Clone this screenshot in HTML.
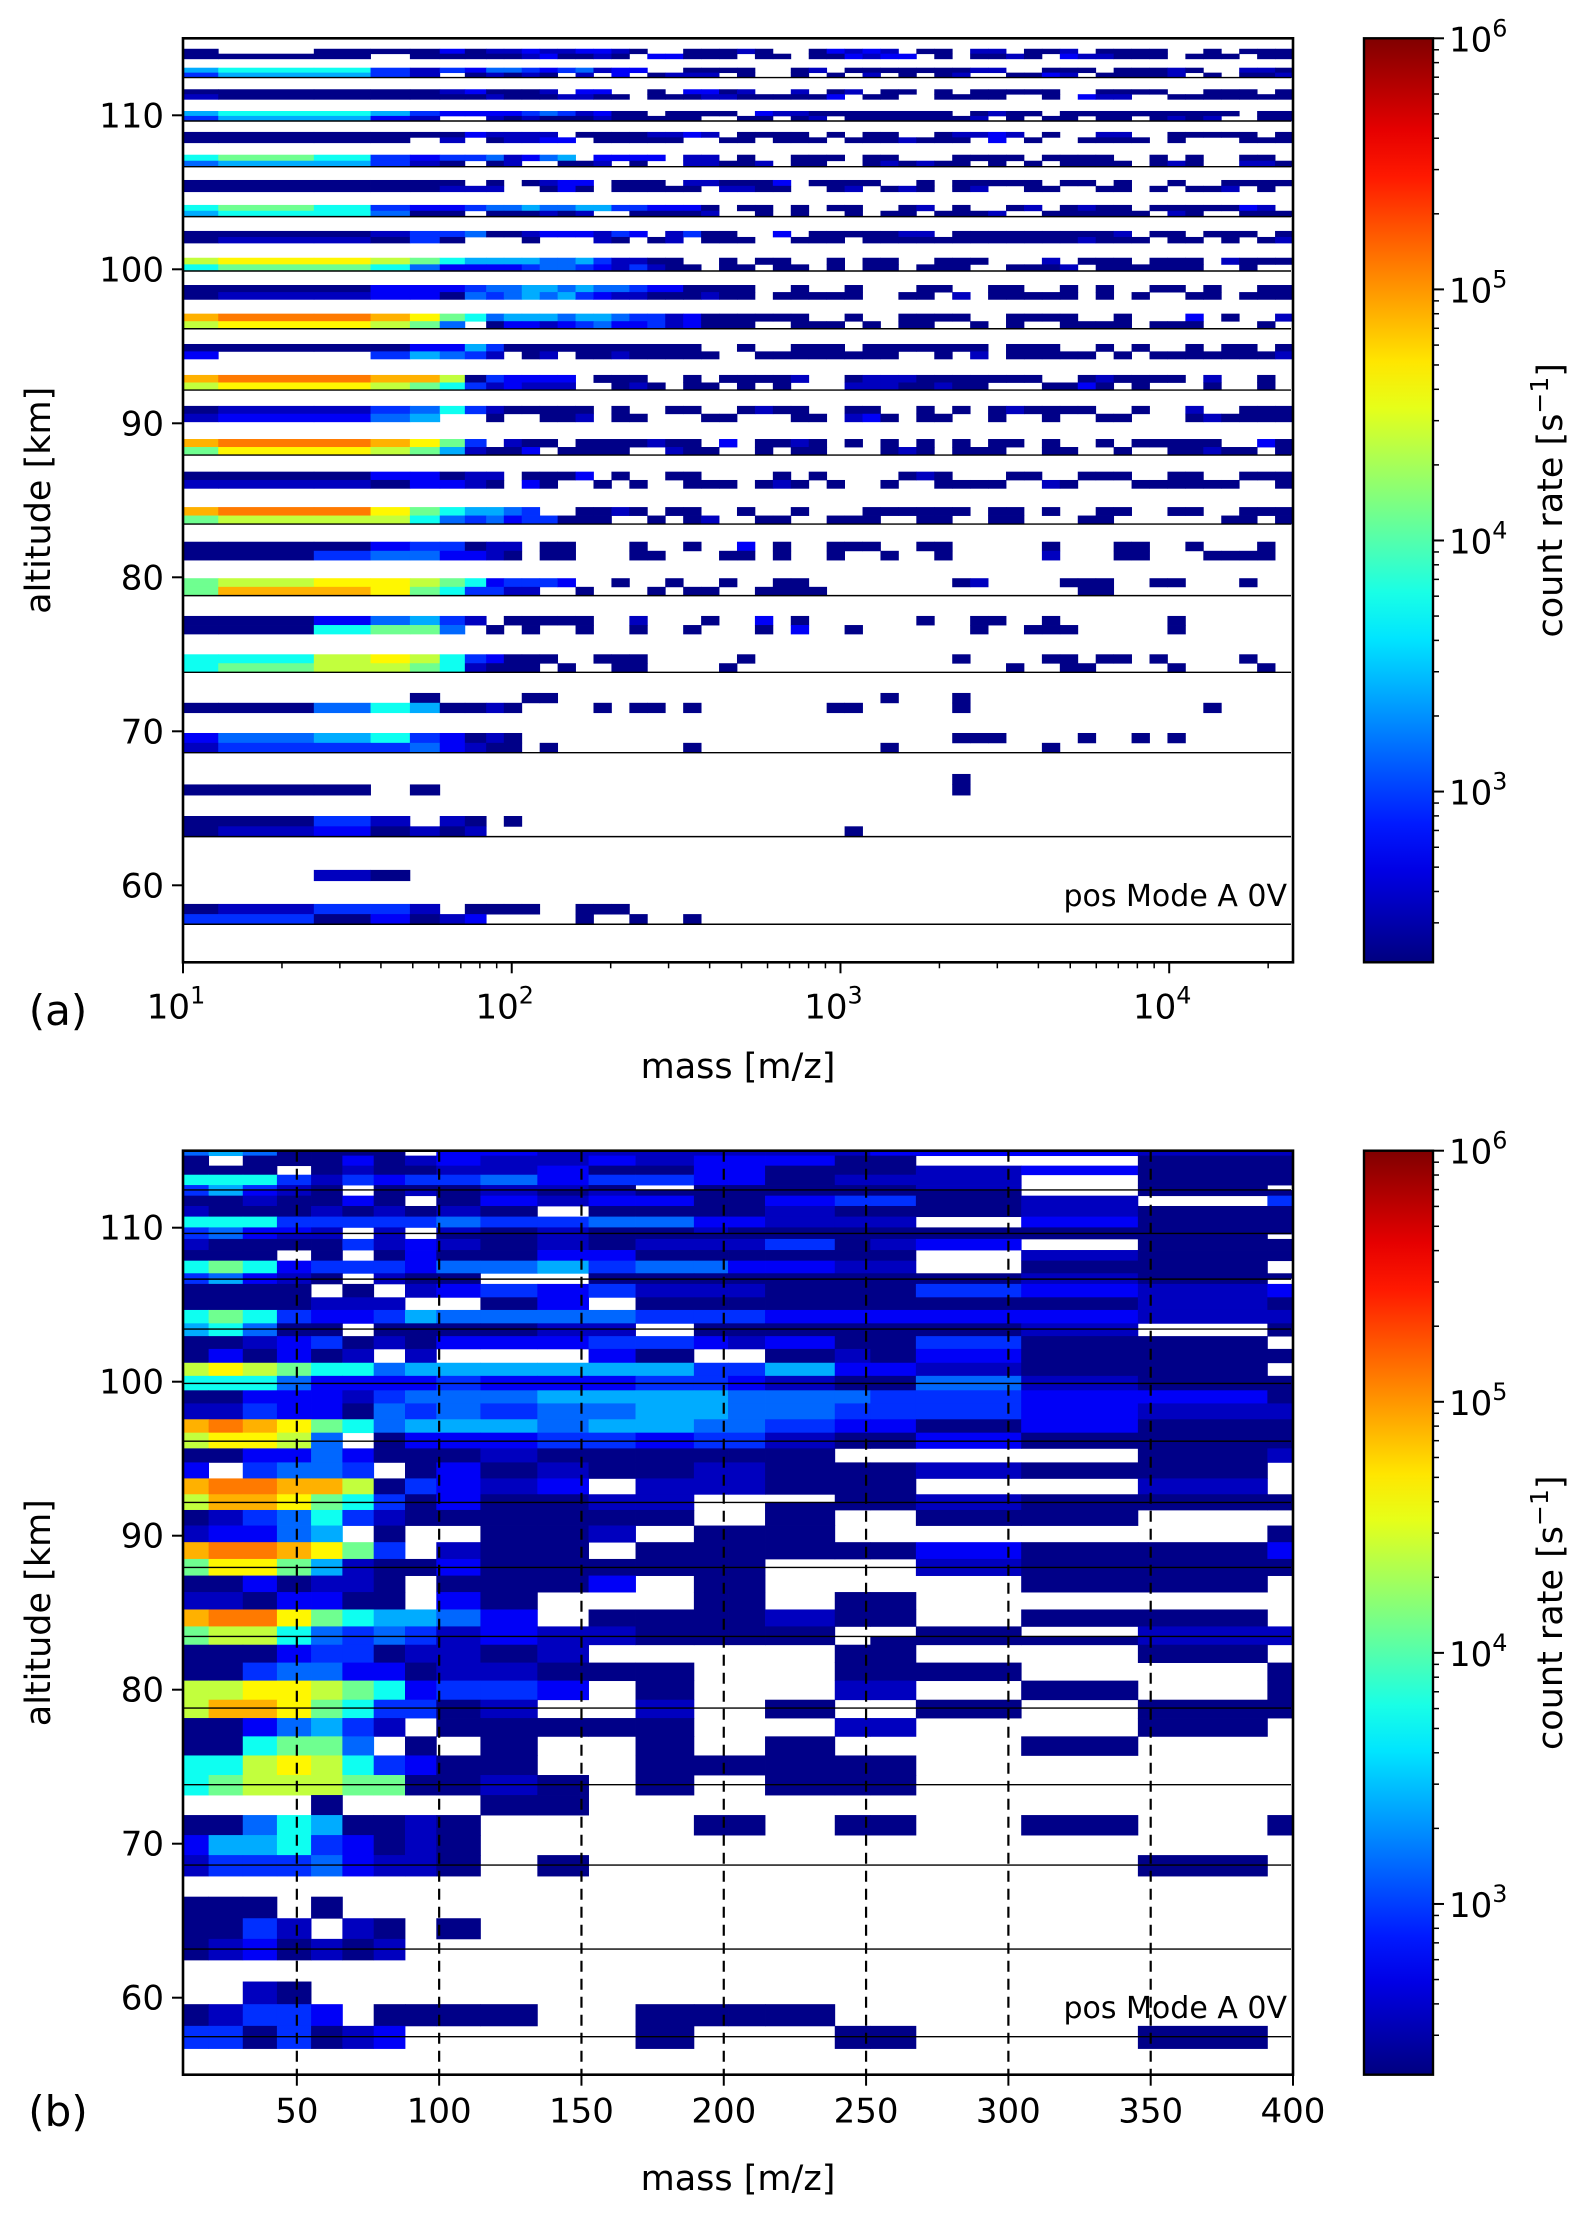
<!DOCTYPE html>
<html><head><meta charset="utf-8"><style>
html,body{margin:0;padding:0;background:#fff;}
svg{display:block;font-family:"DejaVu Sans","Liberation Sans",sans-serif;}
</style></head><body>
<svg id="fig" xmlns="http://www.w3.org/2000/svg" width="1592" height="2218" viewBox="0 0 1592 2218">
<defs><linearGradient id="jetgrad" x1="0" y1="1" x2="0" y2="0"></linearGradient></defs>
<rect x="0" y="0" width="1592" height="2218" fill="#fff"/>
</svg>
<script>
// ---------- data ----------
// colour code -> log10(count rate)
const codeLetters = "abcdefghijkl";
const codeLogValues = [2.35,2.55,2.75,2.95,3.15,3.4,3.75,4.1,4.4,4.65,4.9,5.1];
// panel (a): mass bin edges (first low-mass edges, then log bins)
const aMassEdgesLow = [10,12.8,25,37.2,49,60.4,72,83.6,94.6];
const aLogBinCount = 44;
const aMassMax = 23800;
const aRowBottom = [114.0,113.67,112.77,112.45,111.37,111.04,109.96,109.63,108.57,108.22,107.05,106.66,105.42,105.04,103.8,103.42,102.1,101.71,100.32,99.89,98.52,98.05,96.63,96.14,94.67,94.18,92.65,92.16,90.62,90.1,88.46,87.94,86.32,85.78,84.01,83.46,81.72,81.12,79.38,78.81,76.9,76.32,74.42,73.83,71.85,71.21,69.25,68.61,66.55,65.86,63.83,63.16,60.3,59.57,58.13,57.47];
const aRowTop = [114.32,114.0,113.09,112.77,111.69,111.37,110.28,109.96,108.92,108.57,107.44,107.05,105.8,105.42,104.18,103.8,102.49,102.1,100.75,100.32,98.98,98.52,97.12,96.63,95.15,94.67,93.14,92.65,91.13,90.62,88.98,88.46,86.86,86.32,84.56,84.01,82.31,81.72,79.94,79.38,77.49,76.9,75.0,74.42,72.49,71.85,69.89,69.25,67.23,66.55,64.5,63.83,61.0,60.3,58.79,58.13];
const aRowCodes = [
"a aaacab"+"bcbbccba  aaaba  acbcb aa bb aab aaaa  a aaaaab",
"aaa aaaa"+"abcaaba ccaaa aa aacbcc a aaba cbbaaa aaa aaacb",
"fggdbdce"+"edcdebcc  aaaa  ab aaaaaaabb  aaa aaaba  bbaaac",
"dffdb ab"+"aba b c abbb a  a a b a ab  aacb aaaab a aab aa",
"aaaaabca"+"aab cc  a ccab  b ab aa a aaaaa  aaaa  aaa aaaa",
"baaaaaab"+"aaabbaa aaabbaaaaac aa  aaaa  a cbb  aaaaaaaab",
"fggfdccc"+"cdedbcaa aaaa cbbaaaaaaaa abaa aaaaaaaaaa aaaa",
"dffcb  b"+"abaaabaaaaa  aa ab aaaaaaab a aa aa abab  aaaaa",
"aaaaaacb"+"bbb aaaabbcb aaaa a aa  abbcb a  bb  aaaaa aaa ",
"aaaa b a"+"bbcc aaaaa  aa aaa aaabaaa c a  aaaa a   aaaa a",
"ghgdcdde"+"bcef cccc bb a  aaa aa   aaaa aaaa  a a  aa aab",
"effdba a"+"b  aab a  bbaab aa  ababaa a a aaaa aba  bbaaaa",
"aaaaaa a"+" abcc aaa bbaaac aaaa  a aaaaa aa a  a  aaaa aa",
"aaaaabbb"+"  aca aaaaa bbaa  ab aba ab  aa  aa a aab a  aa",
"ghgdccde"+"efeeffddccca aa a aa  ab a  ab abaa aaaaacb  ab",
"fggeaa a"+"aabab  aaaab  a a  a aa aaab  aaaaaa ba  aaaa ",
"aaabddea"+"abcccbdc bdaa  c aaaaabb aaaaaaaaab aa aaa aab",
"abbada  "+" a   ba ab aaa  aaa aaaaaaaaaaaabaaa aa a aba ",
"ijjihgff"+"ffeefdbbaa  a aa  a aa  aaa   b aaa aaa baaaaa",
"ghhgeccc"+"cdeedcbdbaa aa aa a aa aaa  aaab aaaaaa  a  a ",
"aaacccde"+"effefeedccaaaa  a  a   aa  aa  a a  aa a  aaa ",
"abbccaed"+"efefdcbbaaabaa aaaaa  aa b aaaaa a a  aa aaa  ",
"kllkjhge"+"fffeffeddbcaaaaaa  a  aaaa  aaaa  a   c a  b  ",
"ijjihe a"+"ccbcdeccdbcaaa  aaa a aa  a a  aaaa aaa   a a ",
"aaaaccfd"+"aaaaaaaaaaa  a  aaa aaaaaaa aaa  a a  a aa aaa",
"c  dfedb"+" ab aabaaaaa  aaaaaaaa  a b aaaaa a aaaaaaabaa",
"kllkkiad"+"cccc aaa  a aaaab  abbbaaaaaaa  abaaaa b  a aa",
"ijjihgdb"+"cbbb  aba aa a a   bbbaabaa   aaca a   a  a a ",
"abbdegdb"+"aaaaa a  aa  abaa  aa  a a abaaaa  a  b  aaaaa",
"bccef  a"+"  aab aa   aa   aa bca aa  a  a  aa   abaaaa ",
"kllkjhd "+"baa aaaabaa c aaba a a a a aa a  a aaaaa  ca ",
"hjjihfba"+"ac aaaa  baa  a aa   aba aaa  aa  a  aabaa a a",
"aaaccabb"+" aaac a  aa    a a    aba   aa  aaa  aa  aaab",
"bbbaccba"+" ca  a a  aaa aba a  a  aaaa  ba   aaaaaa  a ",
"klljhgff"+"ed  aaba aa  a  a   aaaaaa aa a  aa  aa  aaaa",
"hiiigede"+"cddaaa  a ab  aa  aaa  aa  aa   aa      aa a  ",
"aaacddab"+"b aa   a  a  c a  aaa  aa     a   aa  a   a  ",
"aadeeccb"+"a aa   aa   aa a  a  a  a     b   aa   aaaa   ",
"hijjihgc"+"dddc  a  a  a  aa        ab    aaa  aa   a   ",
"hkkjhgdd"+"bb  a   a aa  aaaa              aa           ",
"aacefdb "+"aaaaa  b   a  c a      a  aa  a      a      b ",
"aaghhe a"+" a  a  a  a   a c  a      a  aaa     a       ",
"ggijigdc"+"aaa  aaa     a           a    aa aa a    a    ",
"ghiihgba"+"aa a  aa    a               a  aa    a    a  ",
"    a   "+" aa                  a   a",
"aaegfaab"+"a    a aa a       aa     a             a",
"cefgdcab"+"a                        aaa    a  a a",
"bdddecba"+"a a       a          a        a",
"        "+"                         a",
"aaa a   "+"                         a",
"aadb ba "+"a",
"abcabab "+"                   a",
"  ba    "+"",
"        "+"",
"abddb aa"+"aa  aaa",
"ddacabc "+"    a  a  a"
];
// panel (b): linear mass bin edges and altitude edges
const bMassEdges = [10,19,31,43,55,66,77,88,99,114.5,134.5,152.5,169,189.5,201.5,214.5,239,251.5,267.5,304.5,345.5,391,400];
const bAltEdges = [114.94,114.68,114.03,113.44,112.77,112.45,112.08,111.41,110.72,110.02,109.59,109.27,108.55,107.86,107.04,106.71,106.35,105.48,104.66,103.79,103.44,102.96,102.13,101.23,100.38,99.94,99.44,98.59,97.56,96.69,96.22,95.67,94.76,93.72,92.69,92.18,91.67,90.66,89.58,88.49,87.97,87.41,86.34,85.21,84.11,83.47,82.92,81.76,80.59,79.35,78.79,78.16,76.97,75.73,74.46,73.16,71.86,70.56,69.26,67.9,66.56,65.16,63.82,62.45,61.05,59.58,58.17,56.7];
const bRowCodes = [
"efeaaaa ccbbbbbbbcccbb","a aaacabcbbcbcccaa  aa","aaa abaabbcaaccaaabcaa","gggdbdcddecddccabbb aa",
"dfdba aaabba aaaaab a ","dfcba abababaaaaaaa aa","aabaaca acbccaacddab d","baaabababa aaaabaaabaa",
"gggdddddeddeeccbbb caa","deccb b babaabaaaaaaaa","decbb b aabaaaaaaaaaa ","baaaadbcbababbbdabc aa",
"aaa a acaaccaaaaaa baa","ghgcdddceefdeeccbb aa ","decba baa  aaaaaaaabaa","dfcba baa  aaaaaaaaba ",
"aaaa a bcdcdbbbaaadcbc","aaaabbb  ac aaaaaaaaba","ghgdccdfeeeedddcccccbb","fgeaa aaaabb aaaaaab a",
"fgeaa aaaabb aaaaaab a","aabcdabacccddcbcaadaa ","acacab b   ca  abacaaa","ijihggeffffffddfccbaa ",
"gggeccccdcccddcbaaebaa","gggeccccdcccddcbaaebaa","aacccbdeeeffffeeeddcca","bbdccaededeeffeedddcbb",
"klkjhgefffeffeedccacaa","ijjie acccddcddbaacaaa","ijjie acccddcddbaacaaa","aaccecaaabaaaaaa    ab",
"c deed acabaabbaaabaa ","kllkkiadcbc bbbaaa  b ","ikkjhgdacaabb   aabaaa","ikkjhgdacaabb  aaabaaa",
"abdegdbaaaaaa  a  aa  ","bccef a  aab aaa     a","kllkjhd baa aaaaaacaac","hjjhfbaacaaaaaa   baaa",
"hjjhfbaacaaaaaa   baaa","aacabba aaac aa    aa ","bbaccaa ca   aa aa    ","klljhgffec aaaabaa aa ",
"hiigededbcbbaaaa  a bb","hiigededbcbbaaaa aaabb","aaacddabbab     aa  a ","aadeeccabbaaa   aaa  a",
"iijjihgcddc a   bb a a","ikkjhgddab  b  a  a aa","ikkjhgddab  b  a  a aa","aacefdb aaaaa   bb  a ",
"aaghhe a a  a  a   a  ","ggijigdcaa  aaaaaa    ","ghiiihhaaba a  aaa    ","    a    aa           ",
"aaegfaaba    aa aa a a","cffgdcaba             ","bdddecbba a         a ","                      ",
"aaa a                 ","aadb ba a             ","abcabab               ","                      ",
"  ba                  ","abddc aaaa  aaaa      ","ddadabc     a   aa  a "
];
const groupLineAlts = [112.45,109.63,106.66,103.42,99.89,96.14,92.16,87.94,83.46,78.81,73.83,68.61,63.16,57.47];
const aYTicks = [60,70,80,90,100,110];
const aXTickExps = [1,2,3,4];
const bXTicks = [50,100,150,200,250,300,350,400];
const bDashed = [50,100,150,200,250,300,350];
const cbTickExps = [3,4,5,6];
const cbMin = 2.32, cbMax = 6;

// ---------- geometry ----------
const NS = "http://www.w3.org/2000/svg";
const svg = document.getElementById('fig');
const PL = 183, PR = 1293;
const A = {top:38.3, bottom:962.3};
const B = {top:1150.7, bottom:2074.7};
const altMin = 55, altMax = 115;
const CB = {x:1364, w:69};
function yA(alt){return A.bottom - (alt-altMin)/(altMax-altMin)*(A.bottom-A.top);}
function yB(alt){return B.bottom - (alt-altMin)/(altMax-altMin)*(B.bottom-B.top);}
const aLogMax = Math.log10(aMassMax);
function xA(m){return PL + (Math.log10(m)-1)/(aLogMax-1)*(PR-PL);}
function xB(m){return PL + (m-10)/(400-10)*(PR-PL);}
function jet(v){
  let t=(v-cbMin)/(cbMax-cbMin); t=Math.max(0,Math.min(1,t));
  const c=x=>Math.round(255*Math.max(0,Math.min(1,x)));
  return `rgb(${c(1.5-Math.abs(4*t-3))},${c(1.5-Math.abs(4*t-2))},${c(1.5-Math.abs(4*t-1))})`;
}
function el(tag, attrs, parent){const e=document.createElementNS(NS,tag);for(const k in attrs)e.setAttribute(k,attrs[k]);(parent||svg).appendChild(e);return e;}
function decode(s,n){const out=[];for(let i=0;i<n;i++){const ch=s[i]||' ';const k=codeLetters.indexOf(ch);out.push(k<0?null:codeLogValues[k]);}return out;}

// panel (a) mass edges
const aMassEdges = aMassEdgesLow.slice();
{const l0=Math.log10(aMassEdgesLow[aMassEdgesLow.length-1]);const step=(aLogMax-l0)/aLogBinCount;
 for(let i=1;i<=aLogBinCount;i++)aMassEdges.push(Math.pow(10,l0+step*i));}
const aNCols = aMassEdges.length-1;

// ---------- panel (a) heatmap ----------
const gA = el('g',{});


aRowCodes.forEach((s,r)=>{
  const vals=decode(s,aNCols);
  const y0=yA(aRowTop[r]), y1=yA(aRowBottom[r]);
  vals.forEach((v,c)=>{ if(v===null)return;
    const x0=xA(aMassEdges[c]), x1=xA(aMassEdges[c+1]);
    const rc=el('rect',{x:x0.toFixed(2),y:y0.toFixed(2),width:(x1-x0+0.4).toFixed(2),height:(y1-y0+0.4).toFixed(2),fill:jet(v)},gA);
    
    
  });
});
// ---------- panel (b) heatmap ----------
const gB = el('g',{});


bRowCodes.forEach((s,r)=>{
  const vals=decode(s,bMassEdges.length-1);
  const y0=yB(bAltEdges[r]), y1=yB(bAltEdges[r+1]);
  vals.forEach((v,c)=>{ if(v===null)return;
    const x0=xB(bMassEdges[c]), x1=xB(bMassEdges[c+1]);
    const rc=el('rect',{x:x0.toFixed(2),y:y0.toFixed(2),width:(x1-x0+0.4).toFixed(2),height:(y1-y0+0.4).toFixed(2),fill:jet(v)},gB);
    
    
  });
});

// group lines
groupLineAlts.forEach(a=>{
  const l1=el('line',{x1:PL,x2:PR-2,y1:yA(a),y2:yA(a),stroke:'#000','stroke-width':1.4});
  
  
  const l2=el('line',{x1:PL,x2:PR-2,y1:yB(a),y2:yB(a),stroke:'#000','stroke-width':1.4});
  
  
});
// dashed verticals
bDashed.forEach(m=>{
  const l=el('line',{x1:xB(m),x2:xB(m),y1:B.top,y2:B.bottom,stroke:'#000','stroke-width':2.2,'stroke-dasharray':'11,7'});
  
  
});

// frames
[[A,'plot-frame-a'],[B,'plot-frame-b']].forEach(([P,n])=>{
  const f=el('rect',{x:PL,y:P.top,width:PR-PL,height:P.bottom-P.top,fill:'none',stroke:'#000','stroke-width':2.6});
  
  
});

function text(str,x,y,size,anchor,name,rot){
  const t=el('text',{x:x,y:y,'font-size':size,'text-anchor':anchor||'middle',fill:'#000'});
  if(rot)t.setAttribute('transform',`rotate(-90 ${x} ${y})`);
  t.textContent=str;
  
  
  return t;
}
function powText(base,exp,x,y,size,anchor,name){
  const t=el('text',{x:x,y:y,'font-size':size,'text-anchor':anchor,fill:'#000'});
  t.appendChild(document.createTextNode(base));
  const sp=el('tspan',{dy:-15,'font-size':size*0.7},t);sp.textContent=exp;
  
  
  return t;
}
function tick(x1,y1,x2,y2,w,name){const l=el('line',{x1,y1,x2,y2,stroke:'#000','stroke-width':w});}

// y ticks both panels
aYTicks.forEach(v=>{
  tick(PL-11,yA(v),PL,yA(v),2,'y-tick-a');
  text(String(v),PL-19,yA(v)+12,34,'end','y-tick-label-a');
  tick(PL-11,yB(v),PL,yB(v),2,'y-tick-b');
  text(String(v),PL-19,yB(v)+12,34,'end','y-tick-label-b');
});
// x ticks (a) log
aXTickExps.forEach(e=>{
  const x=xA(Math.pow(10,e));
  tick(x,A.bottom,x,A.bottom+11,2,'x-tick-a');
  powText('10',String(e),x-7,A.bottom+56,34,'middle','x-tick-label-a');
});
for(let e=1;e<=4;e++)for(let k=2;k<=9;k++){const m=k*Math.pow(10,e);if(m>aMassMax)continue;const x=xA(m);tick(x,A.bottom,x,A.bottom+6,1.5,'x-minor-tick-a');}
// x ticks (b)
bXTicks.forEach(v=>{
  const x=xB(v);
  tick(x,B.bottom,x,B.bottom+11,2,'x-tick-b');
  text(String(v),x,B.bottom+48,34,'middle','x-tick-label-b');
});

// axis labels
text('altitude [km]',50,yA(85),35,'middle','y-axis-title-a',true);
text('altitude [km]',50,yB(85),35,'middle','y-axis-title-b',true);
text('mass [m/z]',738,1078,35,'middle','x-axis-title-a');
text('mass [m/z]',738,2190,35,'middle','x-axis-title-b');
text('(a)',58,1025,42,'middle','panel-label-a');
text('(b)',58,2126,42,'middle','panel-label-b');
text('pos Mode A 0V',PR-6,906,30,'end','mode-annotation-a');
text('pos Mode A 0V',PR-6,2018,30,'end','mode-annotation-b');

// colorbars
const grad=document.getElementById('jetgrad');
for(let i=0;i<=20;i++){const v=cbMin+(cbMax-cbMin)*i/20;el('stop',{offset:(i/20),'stop-color':jet(v)},grad);}
[[A,'a'],[B,'b']].forEach(([P,n])=>{
  const r=el('rect',{x:CB.x,y:P.top,width:CB.w,height:P.bottom-P.top,fill:'url(#jetgrad)',stroke:'#000','stroke-width':2.4});
  
  
  const cy=v=>P.bottom-(v-cbMin)/(cbMax-cbMin)*(P.bottom-P.top);
  cbTickExps.forEach(e=>{
    tick(CB.x+CB.w,cy(e),CB.x+CB.w+11,cy(e),2,'colorbar-tick-'+n);
    powText('10',String(e),CB.x+CB.w+16,cy(e)+13,34,'start','colorbar-tick-label-'+n);
  });
  for(let e=2;e<=5;e++)for(let k=2;k<=9;k++){const v=Math.log10(k)+e;if(v<cbMin||v>cbMax)continue;tick(CB.x+CB.w,cy(v),CB.x+CB.w+6,cy(v),1.5,'colorbar-minor-tick-'+n);}
  const cyMid=(P.top+P.bottom)/2;
  const t=el('text',{x:1562,y:cyMid,'font-size':35,'text-anchor':'middle',transform:`rotate(-90 1562 ${cyMid})`});
  t.appendChild(document.createTextNode('count rate [s'));
  const sp=el('tspan',{dy:-14,'font-size':25},t);sp.textContent='\u22121';
  const sp2=el('tspan',{dy:14},t);sp2.textContent=']';
  
  
});
</script>
</body></html>
